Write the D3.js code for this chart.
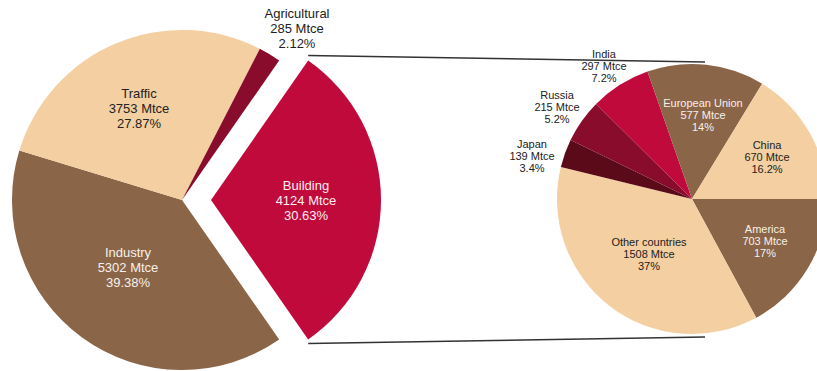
<!DOCTYPE html>
<html>
<head>
<meta charset="utf-8">
<script src="https://cdn.jsdelivr.net/npm/d3@7/dist/d3.min.js"></script>
<style>
  html, body { margin: 0; padding: 0; background: #fff; }
  svg { display: block; }
  text { font-family: "Liberation Sans", Arial, sans-serif; }
</style>
</head>
<body>
<svg id="chart" width="817" height="371"></svg>
<script>
// Energy consumption by sector (Mtce)
const sectors = ["Building", "Industry", "Traffic", "Agricultural"];
const sectorValues = [4124, 5302, 3753, 285];
const sectorShares = ["30.63%", "39.38%", "27.87%", "2.12%"];

// Building energy consumption by country / region (Mtce)
const regions = ["America", "Other countries", "Japan", "Russia", "India", "European Union", "China"];
const regionValues = [703, 1508, 139, 215, 297, 577, 670];
const regionShares = ["17%", "37%", "3.4%", "5.2%", "7.2%", "14%", "16.2%"];

const colors = {
  crimson: "#bf0a3b",
  wine: "#8a0c2c",
  maroon: "#5b0a1a",
  brown: "#8a6547",
  peach: "#f3cfa1"
};
const sectorColors = [colors.crimson, colors.brown, colors.peach, colors.wine];
const regionColors = [colors.brown, colors.peach, colors.maroon, colors.wine, colors.crimson, colors.brown, colors.peach];

const svg = d3.select("#chart");

// ---------- left pie: sectors, Building pulled out ----------
const L = { cx: 182, cy: 200, r: 170, explode: 29 };
const sectorTotal = d3.sum(sectorValues);
const buildingSpan = 2 * Math.PI * sectorValues[0] / sectorTotal;
const leftStart = Math.PI / 2 - buildingSpan / 2; // Building centred on 3 o'clock

const leftPie = d3.pie().sort(null).value(d => d)
  .startAngle(leftStart).endAngle(leftStart + 2 * Math.PI);
const leftArcs = leftPie(sectorValues);
const leftArc = d3.arc().innerRadius(0).outerRadius(L.r);

const leftG = svg.append("g").attr("transform", `translate(${L.cx},${L.cy})`);
const offset = d => {
  if (d.index !== 0) return [0, 0];
  const mid = (d.startAngle + d.endAngle) / 2;
  return [Math.sin(mid) * L.explode, -Math.cos(mid) * L.explode];
};
leftG.selectAll("path").data(leftArcs).join("path")
  .attr("d", leftArc)
  .attr("fill", (d, i) => sectorColors[i])
  .attr("transform", d => `translate(${offset(d)})`);

// sector labels
const leftLabelPos = [
  { x: 306, y: 187, fill: "#fbeef0" },   // Building
  { x: 128, y: 254, fill: "#f7f1ea" },   // Industry
  { x: 139, y: 95, fill: "#222" },       // Traffic
  { x: 297, y: 15, fill: "#222" }        // Agricultural
];
sectors.forEach((name, i) => {
  const p = leftLabelPos[i];
  const t = svg.append("text")
    .attr("text-anchor", "middle")
    .attr("font-size", 13)
    .attr("fill", p.fill);
  [name, sectorValues[i] + " Mtce", sectorShares[i]].forEach((line, k) => {
    t.append("tspan").attr("x", p.x).attr("y", p.y + k * 15)
      .attr("dominant-baseline", "middle").text(line);
  });
});

// ---------- right pie: building by region ----------
const R = { cx: 692, cy: 199, r: 135 };
const rightPie = d3.pie().sort(null).value(d => d)
  .startAngle(Math.PI / 2).endAngle(Math.PI / 2 + 2 * Math.PI);
const rightArcs = rightPie(regionValues);
const rightArc = d3.arc().innerRadius(0).outerRadius(R.r);

const rightG = svg.append("g").attr("transform", `translate(${R.cx},${R.cy})`);
rightG.selectAll("path").data(rightArcs).join("path")
  .attr("d", rightArc)
  .attr("fill", (d, i) => regionColors[i]);

const rightLabelPos = [
  { x: 765, y: 230, fill: "#f7f1ea" },  // America
  { x: 649, y: 243, fill: "#222" },     // Other countries
  { x: 532, y: 145, fill: "#222" },     // Japan
  { x: 557, y: 96, fill: "#222" },      // Russia
  { x: 604, y: 55, fill: "#222" },      // India
  { x: 703, y: 104, fill: "#f7f1ea" },  // European Union
  { x: 767, y: 146, fill: "#222" }      // China
];
regions.forEach((name, i) => {
  const p = rightLabelPos[i];
  const t = svg.append("text")
    .attr("text-anchor", "middle")
    .attr("font-size", 11)
    .attr("fill", p.fill);
  [name, regionValues[i] + " Mtce", regionShares[i]].forEach((line, k) => {
    t.append("tspan").attr("x", p.x).attr("y", p.y + k * 12)
      .attr("dominant-baseline", "middle").text(line);
  });
});

// ---------- connector lines from the pulled-out slice to the detail pie ----------
const b = leftArcs[0];
const [ox, oy] = offset(b);
const topCorner = [L.cx + ox + Math.sin(b.startAngle) * L.r, L.cy + oy - Math.cos(b.startAngle) * L.r];
const botCorner = [L.cx + ox + Math.sin(b.endAngle) * L.r, L.cy + oy - Math.cos(b.endAngle) * L.r];
const connectors = [
  [[topCorner[0], topCorner[1] - 5], [R.cx + 13, R.cy - R.r - 2]],
  [[botCorner[0], botCorner[1] + 4], [R.cx + 13, R.cy + R.r + 3]]
];
svg.selectAll("line.connector").data(connectors).join("line")
  .attr("class", "connector")
  .attr("x1", d => d[0][0]).attr("y1", d => d[0][1])
  .attr("x2", d => d[1][0]).attr("y2", d => d[1][1])
  .attr("stroke", "#333")
  .attr("stroke-width", 1.6);
</script>
</body>
</html>
